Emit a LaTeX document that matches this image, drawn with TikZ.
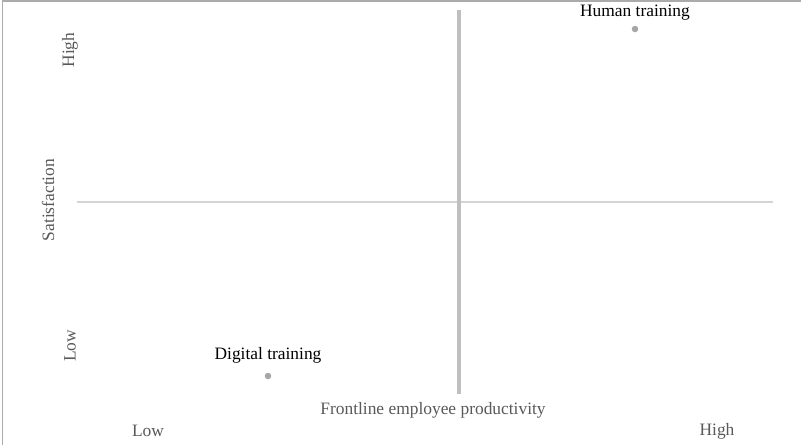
\documentclass[tikz,border=0pt]{standalone}
\usepackage{fontspec}
\setmainfont{Liberation Serif}
\begin{document}
\begin{tikzpicture}[x=1pt,y=-1pt,
  axislbl/.style={text=black!65, font=\fontsize{17.4}{20}\selectfont, inner sep=0pt},
  ptlbl/.style={text=black, font=\fontsize{17.4}{20}\selectfont, inner sep=0pt},
  dotpt/.style={circle, fill=black!35, draw=none, minimum size=6.5pt, inner sep=0pt}]
\useasboundingbox (0,0) rectangle (801,445);
\fill[white] (0,0) rectangle (801,445);
% frame (left and top)
\draw[black!33, line width=1.5pt] (2.5,445) -- (2.5,1) -- (801,1);
% axes
\coordinate (hl) at (77,202);
\coordinate (hr) at (773,202);
\coordinate (vt) at (459,10);
\coordinate (vb) at (459,394);
\draw[black!17, line width=2pt] (hl) -- (hr);
\draw[black!25, line width=4pt] (vt) -- (vb);
% axis labels
\node[axislbl, rotate=90] (yhigh) at (70,50) {High};
\node[axislbl, rotate=90] (ysat) at (48,200) {Satisfaction};
\node[axislbl, rotate=90] (ylow) at (70,346) {Low};
\node[axislbl] (xlab) at (433,410) {Frontline employee productivity};
\node[axislbl] (xlow) at (148,431) {Low};
\node[axislbl] (xhigh) at (717,431) {High};
% points
\node[dotpt] (dig) at (268,376) {};
\node[ptlbl] (diglbl) at (268,355) {Digital training};
\node[dotpt] (hum) at (635,29) {};
\node[ptlbl] (humlbl) at (635,13) {Human training};
\end{tikzpicture}
\end{document}
